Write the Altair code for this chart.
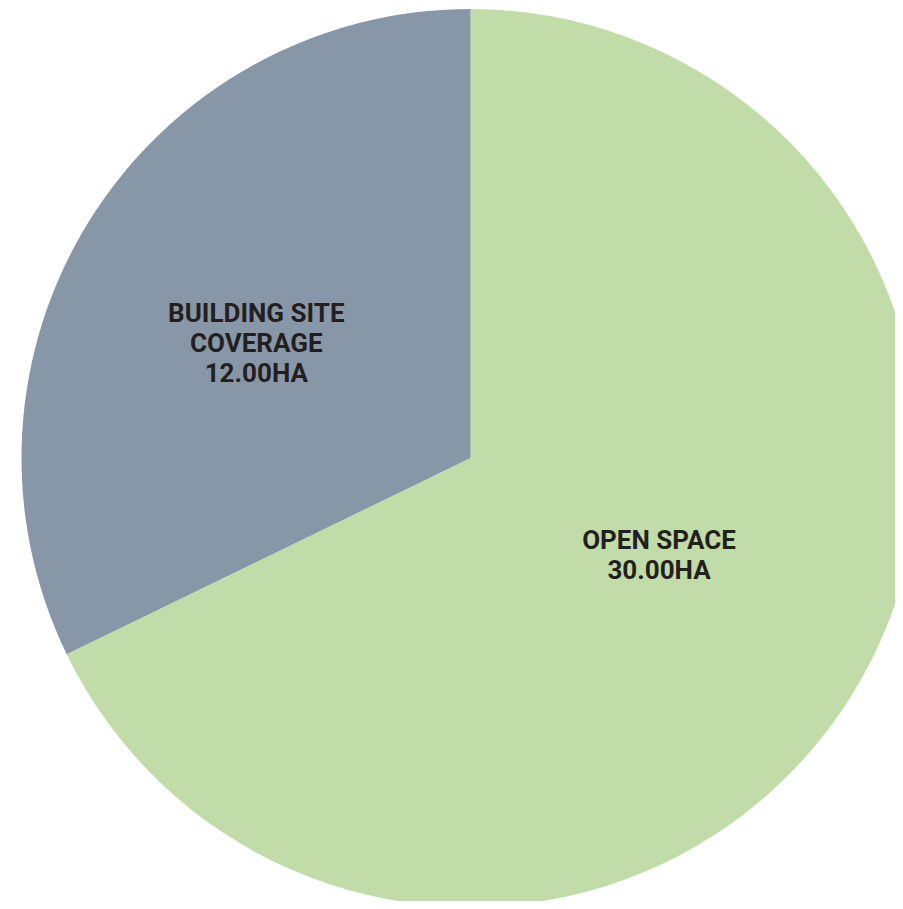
import altair as alt
import pandas as pd

categories = ["OPEN SPACE", "BUILDING SITE COVERAGE"]
area_ha = [30.00, 12.00]
# slice shares as drawn in the reference (angles)
slice_share = [67.8, 32.2]
label_lines = [["OPEN SPACE"], ["BUILDING SITE", "COVERAGE"]]
colors = ["#c1dca8", "#8897a8"]

df = pd.DataFrame({
    "category": categories,
    "area": area_ha,
    "share": slice_share,
    "idx": list(range(len(categories))),
    "label": ["\n".join(l + [f"{a:.2f}HA"]) for l, a in zip(label_lines, area_ha)],
})

cx, cy, R = 462.5, 450, 449
LH = 30

base = alt.Chart(df).encode(
    theta=alt.Theta("share:Q", stack=True),
    order=alt.Order("idx:Q"),
    x=alt.value(cx),
    y=alt.value(cy),
)

pie = base.mark_arc(radius=R, stroke=None).encode(
    color=alt.Color("category:N", scale=alt.Scale(domain=categories, range=colors), legend=None)
)

def label_layer(cat, r, nlines):
    return base.mark_text(
        radius=r, thetaOffset=-0.075, font="Roboto", fontWeight="bold", fontSize=26,
        lineHeight=LH, lineBreak="\n", color="#231f20",
        align="center", baseline="middle", dy=-(nlines - 1) * LH / 2 - 1,
    ).encode(
        text=alt.condition(alt.datum.category == cat, "label:N", alt.value(""))
    )

chart = alt.layer(
    pie,
    label_layer("OPEN SPACE", 213, 2),
    label_layer("BUILDING SITE COVERAGE", 242, 3),
).properties(
    width=887, height=893, padding=0,
    autosize=alt.AutoSizeParams(type="none"),
).configure_view(stroke=None)

chart.save("out.html", embed_options={"renderer": "svg", "actions": False})
